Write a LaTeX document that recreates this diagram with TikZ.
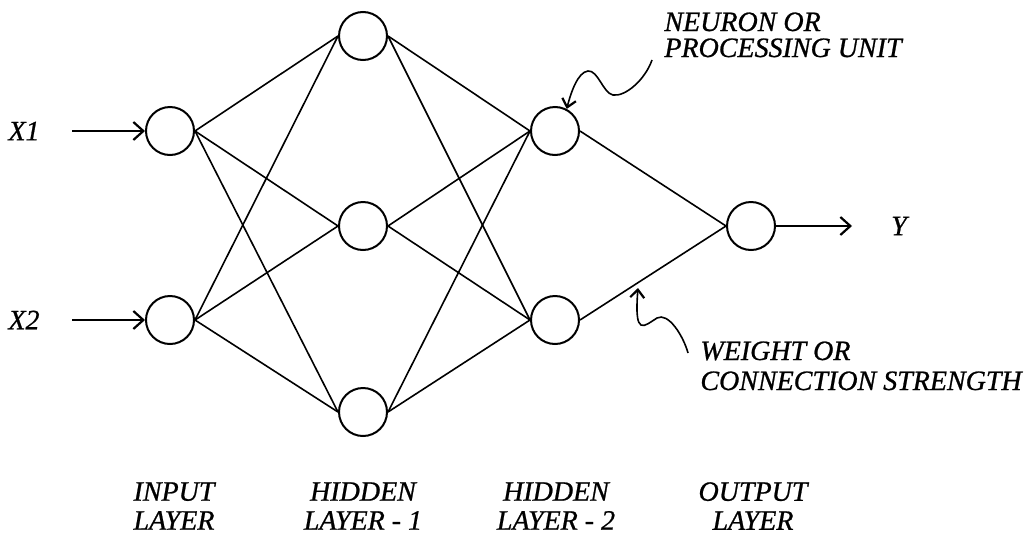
\documentclass[tikz,border=0pt]{standalone}
\usepackage{fontspec}
\setmainfont[ItalicFeatures={FakeBold=0.8}]{Liberation Serif}
\usetikzlibrary{arrows.meta,positioning}

\begin{document}
\begin{tikzpicture}[x=0.5pt,y=-0.5pt,
    neuron/.style={draw,circle,line width=1pt,minimum size=24pt,inner sep=0pt},
    lbl/.style={font=\fontsize{14}{14.5}\selectfont\itshape,inner sep=0pt},
    wire/.style={line width=0.8pt},
    feed/.style={line width=0.9pt,-{Straight Barb[length=5pt,width=9pt,line width=1.1pt]}},
    curl/.style={line width=0.8pt,-{Straight Barb[length=4pt,width=7pt,line width=1.1pt]}}]
  \useasboundingbox (0,0) rectangle (1027,536);
  % layers
  \node[neuron] (in1) at (170,131) {};
  \node[neuron] (in2) at (170,320) {};
  \node[neuron] (ha1) at (363,36) {};
  \node[neuron] (ha2) at (363,226) {};
  \node[neuron] (ha3) at (363,412) {};
  \node[neuron] (hb1) at (555,131) {};
  \node[neuron] (hb2) at (555,320) {};
  \node[neuron] (out) at (751,226) {};
  % weights
  \foreach \a in {in1,in2} \foreach \b in {ha1,ha2,ha3} \draw[wire] (\a.east) -- (\b.west);
  \foreach \a in {ha1,ha2,ha3} \foreach \b in {hb1,hb2} \draw[wire] (\a.east) -- (\b.west);
  \foreach \a in {hb1,hb2} \draw[wire] (\a.east) -- (out.west);
  % inputs and output
  \node[lbl] (x1) at (24,131) {X1};
  \node[lbl] (x2) at (24,320) {X2};
  \node[lbl] (y) at (899,226) {Y};
  \coordinate (x1s) at (72,131);
  \coordinate (x2s) at (72,320);
  \coordinate (ye) at (852,226);
  \draw[feed] (x1s) -- (in1.west);
  \draw[feed] (x2s) -- (in2.west);
  \draw[feed] (out.east) -- (ye);
  % callouts
  \node[lbl,anchor=base west] (nrn1) at (664,31) {NEURON OR};
  \node[lbl,anchor=base west] (nrn2) at (664,57) {PROCESSING UNIT};
  \node[lbl,anchor=base west] (wgt1) at (700,360) {WEIGHT OR};
  \node[lbl,anchor=base west] (wgt2) at (700,390) {CONNECTION STRENGTH};
  \coordinate (ns) at (652,60);
  \coordinate (ws) at (688,353);
  \coordinate (wtip) at (638,288);
  \draw[curl] (ns) .. controls (645,80) and (625,97) .. (613,95)
    .. controls (603,93) and (598,70) .. (588,71)
    .. controls (578,72) and (571,92) .. (hb1.62);
  \draw[curl] (ws) .. controls (683,335) and (668,312) .. (657,318)
    .. controls (644,326) and (634,338) .. (wtip);
  % layer names
  \node[lbl,align=center] (lin) at (174,506) {INPUT\\LAYER};
  \node[lbl,align=center] (lh1) at (363,506) {HIDDEN\\LAYER - 1};
  \node[lbl,align=center] (lh2) at (556,506) {HIDDEN\\LAYER - 2};
  \node[lbl,align=center] (lout) at (753,506) {OUTPUT\\LAYER};
\end{tikzpicture}
\end{document}
